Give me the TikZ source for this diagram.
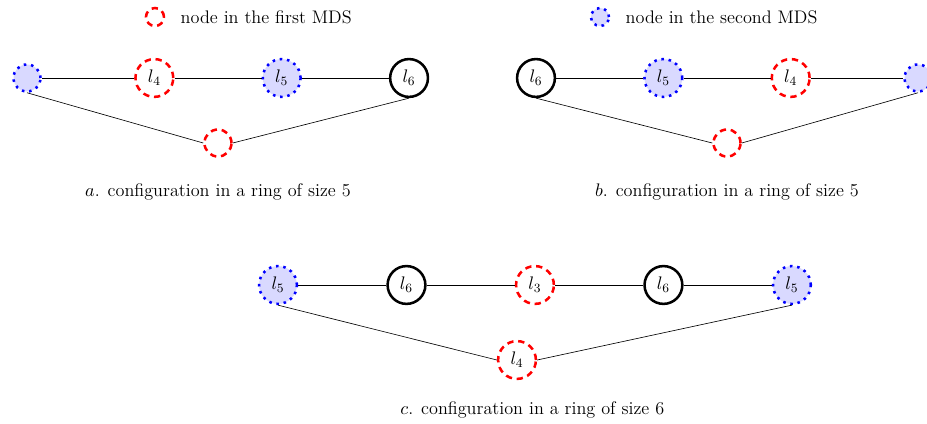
\RequirePackage{fix-cm}
\documentclass[tikz,border=0pt]{standalone}
\usepackage{tikz}
\usepackage{amsmath}
\usetikzlibrary{positioning}
\tikzstyle{first} = [circle, draw=red, ultra thick, dash pattern=on 4pt off 3pt, minimum size=0.6cm]
\tikzstyle{second} = [circle, draw=blue, ultra thick, dash pattern=on 1.6pt off 3pt, fill=blue!15, minimum size=0.6cm]
\tikzstyle{free} = [circle, draw=black, ultra thick, fill=white, minimum size=0.6cm]
\tikzstyle{lbl} = [minimum size=0.84cm]
\tikzstyle{key} = [minimum size=0.4cm]
\tikzstyle{edge} = [thin, black]

\begin{document}
\begin{tikzpicture}[node distance=2.83cm, font=\fontsize{11.5}{14}\selectfont]
    \useasboundingbox (0,0) rectangle (20.6,-9.422);

    % Legend
    \node (keyfirst) [first, key] at (3.444,-0.378) {};
    \node (txtfirst) [right=0.22cm of keyfirst] {node in the first MDS};
    \node (keysecond) [second, key] at (13.333,-0.378) {};
    \node (txtsecond) [right=0.22cm of keysecond] {node in the second MDS};

    % Ring a
    \node (a1) [second] at (0.6,-1.733) {};
    \node (a2) [first, lbl, right of=a1] {$l_4$};
    \node (a3) [second, lbl, right of=a2] {$l_5$};
    \node (a4) [free, lbl, right of=a3] {$l_6$};
    \node (a5) [first] at (4.844,-3.178) {};
    \node (capa) at (4.844,-4.267) {$a$. configuration in a ring of size 5};

    % Ring b
    \node (b1) [free, lbl] at (11.911,-1.733) {$l_6$};
    \node (b2) [second, lbl, right of=b1] {$l_5$};
    \node (b3) [first, lbl, right of=b2] {$l_4$};
    \node (b4) [second, right of=b3] {};
    \node (b5) [first] at (16.156,-3.178) {};
    \node (capb) at (16.156,-4.267) {$b$. configuration in a ring of size 5};

    % Ring c
    \node (c1) [second, lbl] at (6.178,-6.333) {$l_5$};
    \node (c2) [free, lbl, right of=c1, xshift=0.025cm] {$l_6$};
    \node (c3) [first, lbl, right of=c2, xshift=0.025cm] {$l_3$};
    \node (c4) [free, lbl, right of=c3, xshift=0.025cm] {$l_6$};
    \node (c5) [second, lbl, right of=c4, xshift=0.025cm] {$l_5$};
    \node (c6) [first, lbl] at (11.489,-8.0) {$l_4$};
    \node (capc) at (11.83,-9.111) {$c$. configuration in a ring of size 6};

    % Edges
    \draw [edge] (a1) -- (a2) -- (a3) -- (a4);
    \draw [edge] (a1.south) -- (a5.west);
    \draw [edge] (a5.east) -- (a4.south);
    \draw [edge] (b1) -- (b2) -- (b3) -- (b4);
    \draw [edge] (b1.south) -- (b5.west);
    \draw [edge] (b5.east) -- (b4.south);
    \draw [edge] (c1) -- (c2) -- (c3) -- (c4) -- (c5);
    \draw [edge] (c1.south) -- (c6.west);
    \draw [edge] (c6.east) -- (c5.south);
\end{tikzpicture}
\end{document}
